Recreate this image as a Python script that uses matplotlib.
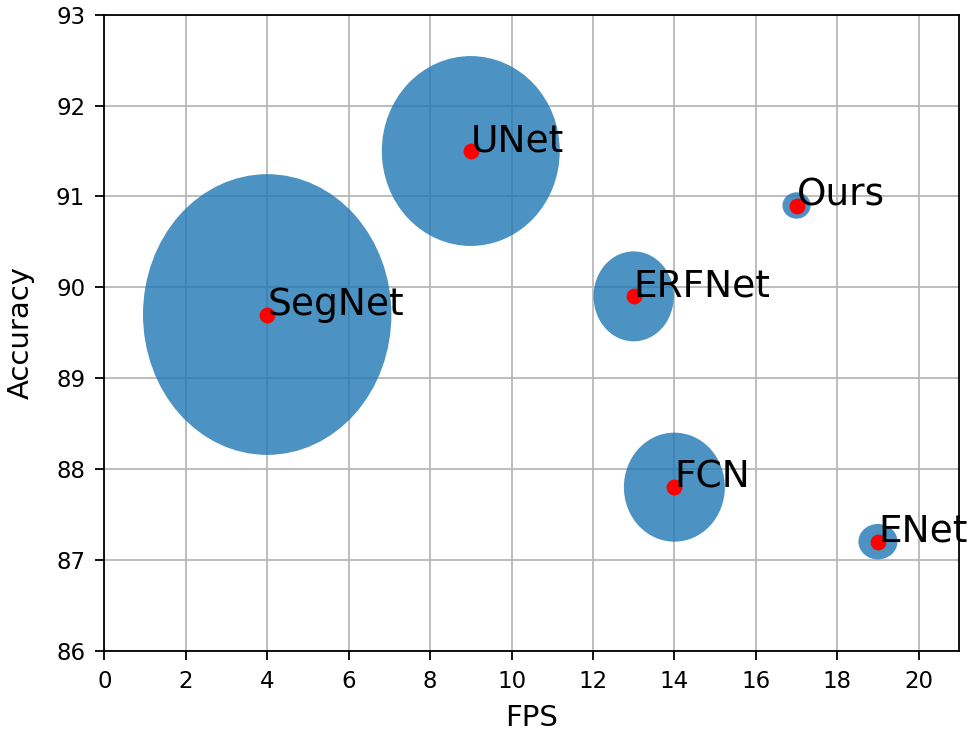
import matplotlib
matplotlib.use("Agg")
import matplotlib.pyplot as plt
from matplotlib.patches import Ellipse

models = ["SegNet", "UNet", "ERFNet", "FCN", "Ours", "ENet"]
fps = [4, 9, 13, 14, 17, 19]
accuracy = [89.7, 91.5, 89.9, 87.8, 90.9, 87.2]
bubble_w = [6.1, 4.37, 1.97, 2.48, 0.69, 0.96]
bubble_h = [3.09, 2.09, 0.99, 1.20, 0.29, 0.39]
xticks = list(range(0, 21, 2))
yticks = list(range(86, 94))

fig = plt.figure(figsize=(9.75, 7.4), dpi=100)
ax = fig.add_axes([0.107, 0.1207, 0.877, 0.8594])

ax.set_axisbelow(True)
ax.grid(True, color="#b8b8b8", linewidth=1.3)

for x, y, w, h in zip(fps, accuracy, bubble_w, bubble_h):
    ax.add_patch(Ellipse((x, y), w, h, facecolor="#1f77b4", alpha=0.8, edgecolor="none", zorder=2))

ax.scatter(fps, accuracy, s=130, color="red", zorder=3, linewidths=0)

for name, x, y in zip(models, fps, accuracy):
    ax.text(x, y, name, fontsize=27, zorder=4)

ax.set_xlim(0, 21)
ax.set_ylim(86, 93)
ax.set_xticks(xticks)
ax.set_yticks(yticks)
ax.tick_params(labelsize=16.5, length=6.3, width=1.3, pad=7.5)
for s in ax.spines.values():
    s.set_linewidth(1.3)
ax.set_xlabel("FPS", fontsize=21, labelpad=8)
ax.set_ylabel("Accuracy", fontsize=21, labelpad=15)

fig.savefig("out.png", dpi=100)
